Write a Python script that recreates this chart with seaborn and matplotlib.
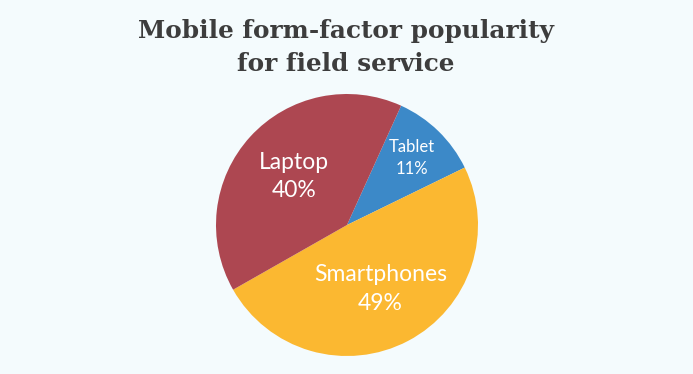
import numpy as np
import seaborn as sns
import matplotlib.pyplot as plt

categories = ["Tablet", "Smartphones", "Laptop"]
shares = [11, 49, 40]

colors = ["#3C89C8", "#FBB831", "#AD4751"]
label_radius = [0.71, 0.55, 0.55]
label_size = [12, 16.5, 16.5]
bg = "#F4FBFD"

sns.set_theme(style="white")
plt.rcParams["font.family"] = ["Lato", "DejaVu Sans"]

fig = plt.figure(figsize=(6.93, 3.74), dpi=100, facecolor=bg)
ax = fig.add_axes([(347 - 131) / 693, 18 / 374, 262 / 693, 262 / 374])
ax.set_facecolor(bg)

wedges, _ = ax.pie(shares, colors=colors, startangle=65.6, counterclock=False,
                   wedgeprops=dict(linewidth=0))
ax.set_xlim(-1, 1)
ax.set_ylim(-1, 1)
ax.set_aspect("equal")
ax.axis("off")

for w, name, val, r, fs in zip(wedges, categories, shares, label_radius, label_size):
    mid = np.deg2rad((w.theta1 + w.theta2) / 2)
    ax.text(r * np.cos(mid), r * np.sin(mid), f"{name}\n{val}%", color="white",
            fontsize=fs, ha="center", va="center", linespacing=1.45)

fig.text(0.4995, 1 - 19 / 374, "Mobile form-factor popularity\nfor field service",
         ha="center", va="top", fontsize=17.8, color="#3D3D3D", fontweight="bold",
         family="DejaVu Serif", linespacing=1.45)

fig.savefig("out.png", dpi=100, facecolor=bg)
